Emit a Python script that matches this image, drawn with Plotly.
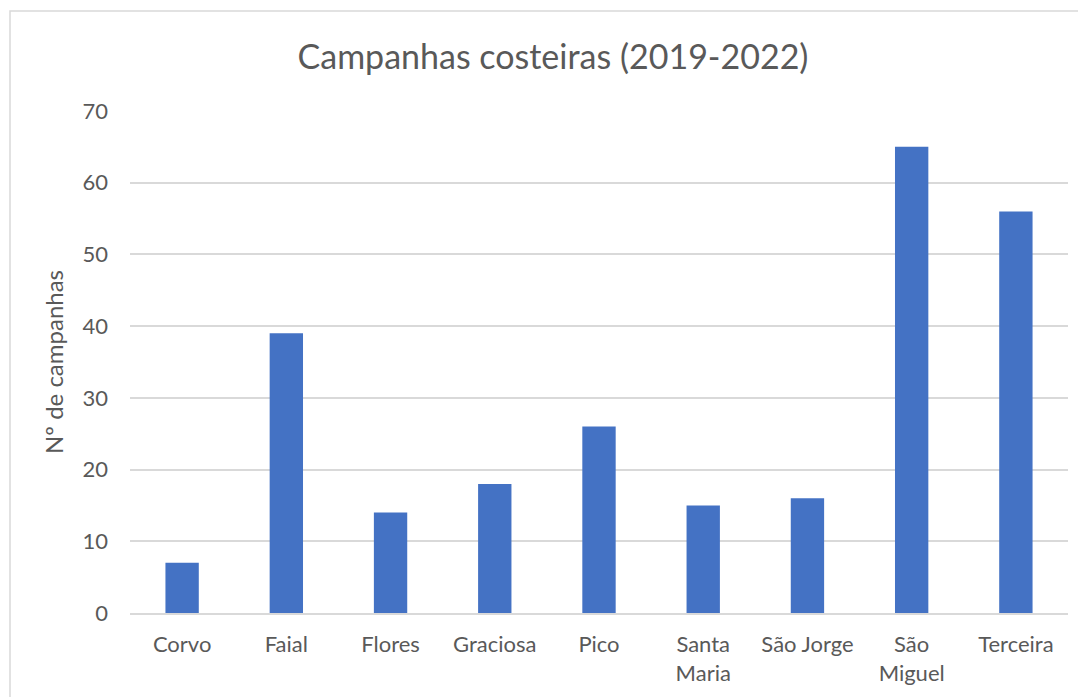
import plotly.graph_objects as go

categories = ["Corvo", "Faial", "Flores", "Graciosa", "Pico", "Santa<br>Maria", "São Jorge", "São<br>Miguel", "Terceira"]
values = [7, 39, 14, 18, 26, 15, 16, 65, 56]
y_ticks = [0, 10, 20, 30, 40, 50, 60, 70]

# page body has an 8px margin; compensate so the picture lines up
OFF = 8
W, H = 1086 - OFF, 697 - OFF
L, R, T, B = 130 - OFF, 18, 111 - OFF, 84
pw = W - L - R
ph = H - T - B

font_family = "Lato, 'Open Sans', sans-serif"
gray = "#595959"

fig = go.Figure(go.Bar(
    x=categories, y=values,
    marker=dict(color="#4472C4", line=dict(width=0)),
    width=0.32,
))

fig.update_layout(
    width=W, height=H,
    margin=dict(l=L, r=R, t=T, b=B),
    paper_bgcolor="white", plot_bgcolor="white",
    font=dict(family=font_family, color=gray, size=23),
    title=dict(text="Campanhas costeiras (2019-2022)", x=(553 - OFF) / W, xref="container",
               xanchor="center",
               y=1 - (57 - OFF) / H, yanchor="middle",
               font=dict(size=34, color=gray, family=font_family)),
    xaxis=dict(showgrid=False, showline=True, linecolor="#d9d9d9", linewidth=1.5,
               ticks="", tickfont=dict(size=22, color=gray), ticklabelstandoff=11),
    yaxis=dict(range=[0, 70], tickvals=y_ticks, showgrid=True, gridcolor="#d9d9d9",
               gridwidth=1.5, zeroline=False, showline=False, ticks="",
               ticklen=0, tickfont=dict(size=22, color=gray), ticklabelstandoff=21,
               title=dict(text="Nº de campanhas", font=dict(size=24, color=gray), standoff=12)),
    showlegend=False,
)

fig.add_shape(type="rect", xref="paper", yref="paper",
              x0=(10 - OFF - L) / pw, x1=(W + 20 - L) / pw,
              y0=-(H + 20 - (T + ph)) / ph, y1=1 + (T - (11 - OFF)) / ph,
              line=dict(color="#d9d9d9", width=1.5), fillcolor="rgba(0,0,0,0)", layer="below")

fig.write_html("out.html")
